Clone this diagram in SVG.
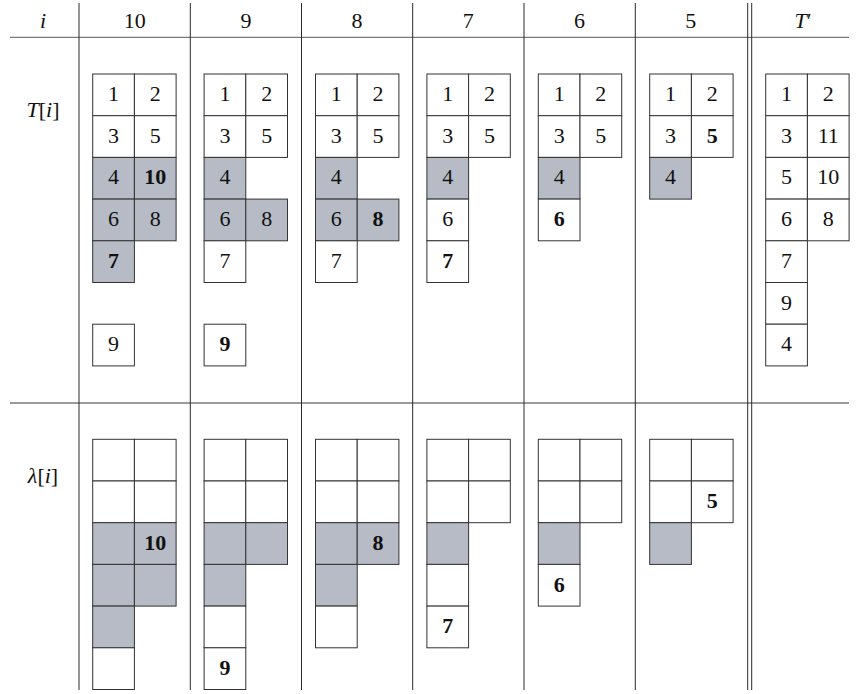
<svg xmlns="http://www.w3.org/2000/svg" width="859" height="694" viewBox="0 0 859 694">
<style>
.bg{fill:#ffffff}
.c{fill:#ffffff;stroke:#333;stroke-width:1}
.g{fill:#b6bbc5;stroke:#333;stroke-width:1}
.hl{stroke:#7a7a7a;stroke-width:1.3;fill:none}
.vl{stroke:#2a2a2a;stroke-width:1;fill:none}
text{fill:#111;font-family:"Liberation Serif","Times New Roman",serif;font-size:22px;text-anchor:middle}
.b{font-weight:bold}
.it{font-style:italic}
</style>
<rect class="bg" x="0" y="0" width="859" height="694"/>
<g id="table-lines">
<line class="hl" x1="10" y1="37.3" x2="849" y2="37.3"/>
<line class="hl" x1="10" y1="403" x2="849" y2="403"/>
<line class="vl" x1="79" y1="3" x2="79" y2="690"/>
<line class="vl" x1="190.3" y1="3" x2="190.3" y2="690"/>
<line class="vl" x1="301.5" y1="3" x2="301.5" y2="690"/>
<line class="vl" x1="412.7" y1="3" x2="412.7" y2="690"/>
<line class="vl" x1="524" y1="3" x2="524" y2="690"/>
<line class="vl" x1="635.3" y1="3" x2="635.3" y2="690"/>
<line class="vl" x1="747.7" y1="3" x2="747.7" y2="690"/>
<line class="vl" x1="751.7" y1="3" x2="751.7" y2="690"/>
</g>
<g id="header">
<text class="it" x="43" y="28">i</text>
<text x="134.7" y="28">10</text>
<text x="246" y="28">9</text>
<text x="357" y="28">8</text>
<text x="468.3" y="28">7</text>
<text x="579.6" y="28">6</text>
<text x="690.8" y="28">5</text>
<text x="803" y="28"><tspan class="it">T</tspan>′</text>
</g>
<g id="row-labels">
<text x="43" y="117"><tspan class="it">T</tspan>[<tspan class="it">i</tspan>]</text>
<text x="43" y="483"><tspan class="it">λ</tspan>[<tspan class="it">i</tspan>]</text>
</g>

<g id="T10">
<rect class="c" x="92.7" y="74" width="41.7" height="41.7"/><rect class="c" x="134.4" y="74" width="41.7" height="41.7"/>
<rect class="c" x="92.7" y="115.7" width="41.7" height="41.7"/><rect class="c" x="134.4" y="115.7" width="41.7" height="41.7"/>
<rect class="g" x="92.7" y="157.4" width="41.7" height="41.7"/><rect class="g" x="134.4" y="157.4" width="41.7" height="41.7"/>
<rect class="g" x="92.7" y="199.1" width="41.7" height="41.7"/><rect class="g" x="134.4" y="199.1" width="41.7" height="41.7"/>
<rect class="g" x="92.7" y="240.8" width="41.7" height="41.7"/>
<rect class="c" x="92.7" y="324.2" width="41.7" height="41.7"/>
<text x="113.55" y="101">1</text><text x="155.25" y="101">2</text>
<text x="113.55" y="142.7">3</text><text x="155.25" y="142.7">5</text>
<text x="113.55" y="184.4">4</text><text class="b" x="155.25" y="184.4">10</text>
<text x="113.55" y="226.1">6</text><text x="155.25" y="226.1">8</text>
<text class="b" x="113.55" y="267.8">7</text>
<text x="113.55" y="351.2">9</text>
</g>

<g id="T9">
<rect class="c" x="204.1" y="74" width="41.7" height="41.7"/><rect class="c" x="245.8" y="74" width="41.7" height="41.7"/>
<rect class="c" x="204.1" y="115.7" width="41.7" height="41.7"/><rect class="c" x="245.8" y="115.7" width="41.7" height="41.7"/>
<rect class="g" x="204.1" y="157.4" width="41.7" height="41.7"/>
<rect class="g" x="204.1" y="199.1" width="41.7" height="41.7"/><rect class="g" x="245.8" y="199.1" width="41.7" height="41.7"/>
<rect class="c" x="204.1" y="240.8" width="41.7" height="41.7"/>
<rect class="c" x="204.1" y="324.2" width="41.7" height="41.7"/>
<text x="224.95" y="101">1</text><text x="266.65" y="101">2</text>
<text x="224.95" y="142.7">3</text><text x="266.65" y="142.7">5</text>
<text x="224.95" y="184.4">4</text>
<text x="224.95" y="226.1">6</text><text x="266.65" y="226.1">8</text>
<text x="224.95" y="267.8">7</text>
<text class="b" x="224.95" y="351.2">9</text>
</g>

<g id="T8">
<rect class="c" x="315.5" y="74" width="41.7" height="41.7"/><rect class="c" x="357.2" y="74" width="41.7" height="41.7"/>
<rect class="c" x="315.5" y="115.7" width="41.7" height="41.7"/><rect class="c" x="357.2" y="115.7" width="41.7" height="41.7"/>
<rect class="g" x="315.5" y="157.4" width="41.7" height="41.7"/>
<rect class="g" x="315.5" y="199.1" width="41.7" height="41.7"/><rect class="g" x="357.2" y="199.1" width="41.7" height="41.7"/>
<rect class="c" x="315.5" y="240.8" width="41.7" height="41.7"/>
<text x="336.35" y="101">1</text><text x="378.05" y="101">2</text>
<text x="336.35" y="142.7">3</text><text x="378.05" y="142.7">5</text>
<text x="336.35" y="184.4">4</text>
<text x="336.35" y="226.1">6</text><text class="b" x="378.05" y="226.1">8</text>
<text x="336.35" y="267.8">7</text>
</g>

<g id="T7">
<rect class="c" x="426.9" y="74" width="41.7" height="41.7"/><rect class="c" x="468.6" y="74" width="41.7" height="41.7"/>
<rect class="c" x="426.9" y="115.7" width="41.7" height="41.7"/><rect class="c" x="468.6" y="115.7" width="41.7" height="41.7"/>
<rect class="g" x="426.9" y="157.4" width="41.7" height="41.7"/>
<rect class="c" x="426.9" y="199.1" width="41.7" height="41.7"/>
<rect class="c" x="426.9" y="240.8" width="41.7" height="41.7"/>
<text x="447.75" y="101">1</text><text x="489.45" y="101">2</text>
<text x="447.75" y="142.7">3</text><text x="489.45" y="142.7">5</text>
<text x="447.75" y="184.4">4</text>
<text x="447.75" y="226.1">6</text>
<text class="b" x="447.75" y="267.8">7</text>
</g>

<g id="T6">
<rect class="c" x="538.3" y="74" width="41.7" height="41.7"/><rect class="c" x="580" y="74" width="41.7" height="41.7"/>
<rect class="c" x="538.3" y="115.7" width="41.7" height="41.7"/><rect class="c" x="580" y="115.7" width="41.7" height="41.7"/>
<rect class="g" x="538.3" y="157.4" width="41.7" height="41.7"/>
<rect class="c" x="538.3" y="199.1" width="41.7" height="41.7"/>
<text x="559.15" y="101">1</text><text x="600.85" y="101">2</text>
<text x="559.15" y="142.7">3</text><text x="600.85" y="142.7">5</text>
<text x="559.15" y="184.4">4</text>
<text class="b" x="559.15" y="226.1">6</text>
</g>

<g id="T5">
<rect class="c" x="649.7" y="74" width="41.7" height="41.7"/><rect class="c" x="691.4" y="74" width="41.7" height="41.7"/>
<rect class="c" x="649.7" y="115.7" width="41.7" height="41.7"/><rect class="c" x="691.4" y="115.7" width="41.7" height="41.7"/>
<rect class="g" x="649.7" y="157.4" width="41.7" height="41.7"/>
<text x="670.55" y="101">1</text><text x="712.25" y="101">2</text>
<text x="670.55" y="142.7">3</text><text class="b" x="712.25" y="142.7">5</text>
<text x="670.55" y="184.4">4</text>
</g>

<g id="Tprime">
<rect class="c" x="765.7" y="74" width="41.7" height="41.7"/><rect class="c" x="807.4" y="74" width="41.7" height="41.7"/>
<rect class="c" x="765.7" y="115.7" width="41.7" height="41.7"/><rect class="c" x="807.4" y="115.7" width="41.7" height="41.7"/>
<rect class="c" x="765.7" y="157.4" width="41.7" height="41.7"/><rect class="c" x="807.4" y="157.4" width="41.7" height="41.7"/>
<rect class="c" x="765.7" y="199.1" width="41.7" height="41.7"/><rect class="c" x="807.4" y="199.1" width="41.7" height="41.7"/>
<rect class="c" x="765.7" y="240.8" width="41.7" height="41.7"/>
<rect class="c" x="765.7" y="282.5" width="41.7" height="41.7"/>
<rect class="c" x="765.7" y="324.2" width="41.7" height="41.7"/>
<text x="786.55" y="101">1</text><text x="828.25" y="101">2</text>
<text x="786.55" y="142.7">3</text><text x="828.25" y="142.7">11</text>
<text x="786.55" y="184.4">5</text><text x="828.25" y="184.4">10</text>
<text x="786.55" y="226.1">6</text><text x="828.25" y="226.1">8</text>
<text x="786.55" y="267.8">7</text>
<text x="786.55" y="309.5">9</text>
<text x="786.55" y="351.2">4</text>
</g>

<g id="L10">
<rect class="c" x="92.7" y="439.3" width="41.7" height="41.7"/><rect class="c" x="134.4" y="439.3" width="41.7" height="41.7"/>
<rect class="c" x="92.7" y="481" width="41.7" height="41.7"/><rect class="c" x="134.4" y="481" width="41.7" height="41.7"/>
<rect class="g" x="92.7" y="522.7" width="41.7" height="41.7"/><rect class="g" x="134.4" y="522.7" width="41.7" height="41.7"/>
<rect class="g" x="92.7" y="564.4" width="41.7" height="41.7"/><rect class="g" x="134.4" y="564.4" width="41.7" height="41.7"/>
<rect class="g" x="92.7" y="606.1" width="41.7" height="41.7"/>
<rect class="c" x="92.7" y="647.8" width="41.7" height="41.7"/>
<text class="b" x="155.25" y="550">10</text>
</g>

<g id="L9">
<rect class="c" x="204.1" y="439.3" width="41.7" height="41.7"/><rect class="c" x="245.8" y="439.3" width="41.7" height="41.7"/>
<rect class="c" x="204.1" y="481" width="41.7" height="41.7"/><rect class="c" x="245.8" y="481" width="41.7" height="41.7"/>
<rect class="g" x="204.1" y="522.7" width="41.7" height="41.7"/><rect class="g" x="245.8" y="522.7" width="41.7" height="41.7"/>
<rect class="g" x="204.1" y="564.4" width="41.7" height="41.7"/>
<rect class="c" x="204.1" y="606.1" width="41.7" height="41.7"/>
<rect class="c" x="204.1" y="647.8" width="41.7" height="41.7"/>
<text class="b" x="224.95" y="675.1">9</text>
</g>

<g id="L8">
<rect class="c" x="315.5" y="439.3" width="41.7" height="41.7"/><rect class="c" x="357.2" y="439.3" width="41.7" height="41.7"/>
<rect class="c" x="315.5" y="481" width="41.7" height="41.7"/><rect class="c" x="357.2" y="481" width="41.7" height="41.7"/>
<rect class="g" x="315.5" y="522.7" width="41.7" height="41.7"/><rect class="g" x="357.2" y="522.7" width="41.7" height="41.7"/>
<rect class="g" x="315.5" y="564.4" width="41.7" height="41.7"/>
<rect class="c" x="315.5" y="606.1" width="41.7" height="41.7"/>
<text class="b" x="378.05" y="550">8</text>
</g>

<g id="L7">
<rect class="c" x="426.9" y="439.3" width="41.7" height="41.7"/><rect class="c" x="468.6" y="439.3" width="41.7" height="41.7"/>
<rect class="c" x="426.9" y="481" width="41.7" height="41.7"/><rect class="c" x="468.6" y="481" width="41.7" height="41.7"/>
<rect class="g" x="426.9" y="522.7" width="41.7" height="41.7"/>
<rect class="c" x="426.9" y="564.4" width="41.7" height="41.7"/>
<rect class="c" x="426.9" y="606.1" width="41.7" height="41.7"/>
<text class="b" x="447.75" y="633.4">7</text>
</g>

<g id="L6">
<rect class="c" x="538.3" y="439.3" width="41.7" height="41.7"/><rect class="c" x="580" y="439.3" width="41.7" height="41.7"/>
<rect class="c" x="538.3" y="481" width="41.7" height="41.7"/><rect class="c" x="580" y="481" width="41.7" height="41.7"/>
<rect class="g" x="538.3" y="522.7" width="41.7" height="41.7"/>
<rect class="c" x="538.3" y="564.4" width="41.7" height="41.7"/>
<text class="b" x="559.15" y="591.7">6</text>
</g>

<g id="L5">
<rect class="c" x="649.7" y="439.3" width="41.7" height="41.7"/><rect class="c" x="691.4" y="439.3" width="41.7" height="41.7"/>
<rect class="c" x="649.7" y="481" width="41.7" height="41.7"/><rect class="c" x="691.4" y="481" width="41.7" height="41.7"/>
<rect class="g" x="649.7" y="522.7" width="41.7" height="41.7"/>
<text class="b" x="712.25" y="508.3">5</text>
</g>
</svg>
